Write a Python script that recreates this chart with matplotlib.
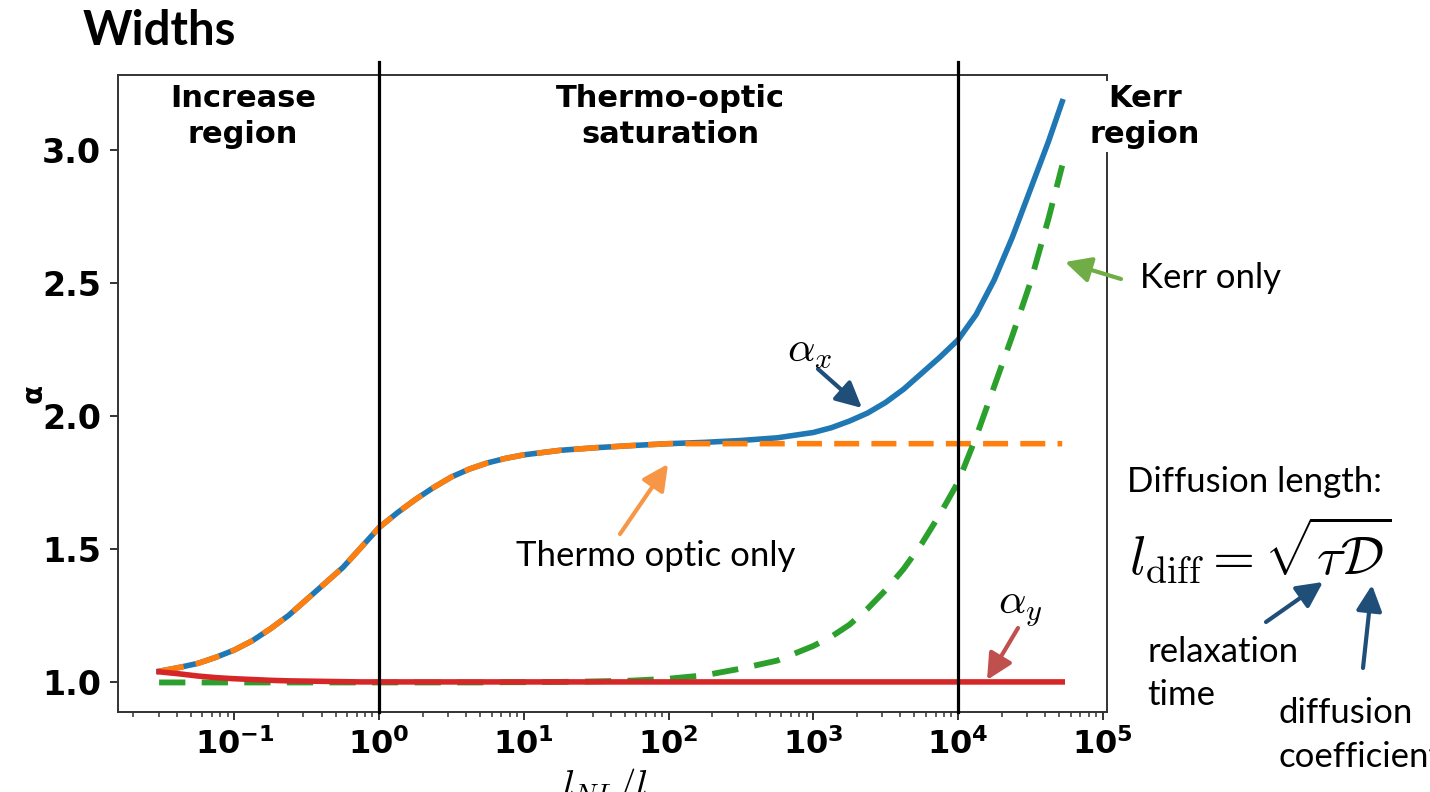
import numpy as np
import matplotlib.pyplot as plt

# data (x in decades of l_NL/l)
log_x = [-1.52, -1.375, -1.25, -1.125, -1.0, -0.875, -0.75, -0.625, -0.5, -0.375, -0.25, -0.125,
         0.0, 0.125, 0.25, 0.375, 0.5, 0.625, 0.75, 0.875, 1.0, 1.25, 1.5, 1.75, 2.0, 2.25, 2.5,
         2.75, 3.0, 3.125, 3.25, 3.375, 3.5, 3.625, 3.75, 3.875, 4.0, 4.125, 4.25, 4.375, 4.5,
         4.625, 4.72]
alpha_x = [1.040, 1.055, 1.070, 1.093, 1.120, 1.155, 1.200, 1.250, 1.310, 1.370, 1.430, 1.505,
           1.580, 1.635, 1.685, 1.730, 1.770, 1.800, 1.823, 1.840, 1.853, 1.870, 1.880, 1.888,
           1.895, 1.900, 1.907, 1.917, 1.937, 1.955, 1.980, 2.010, 2.050, 2.100, 2.160, 2.220,
           2.285, 2.380, 2.510, 2.670, 2.850, 3.030, 3.180]
thermo_only = [1.040, 1.055, 1.070, 1.093, 1.120, 1.155, 1.200, 1.250, 1.310, 1.370, 1.430, 1.505,
               1.580, 1.635, 1.685, 1.730, 1.770, 1.800, 1.823, 1.840, 1.853, 1.870, 1.880, 1.888,
               1.895, 1.895, 1.895, 1.895, 1.895, 1.895, 1.895, 1.895, 1.895, 1.895, 1.895, 1.895,
               1.895, 1.895, 1.895, 1.895, 1.895, 1.895, 1.895]
kerr_only = [0.998, 0.998, 0.998, 0.998, 0.998, 0.998, 0.998, 0.998, 0.998, 0.998, 0.998, 0.998,
             0.998, 0.998, 0.998, 0.998, 0.998, 0.998, 0.998, 0.999, 0.999, 1.000, 1.002, 1.005,
             1.012, 1.025, 1.050, 1.080, 1.135, 1.170, 1.215, 1.275, 1.345, 1.425, 1.520, 1.630,
             1.750, 1.920, 2.110, 2.300, 2.500, 2.740, 2.940]
alpha_y = [1.038, 1.030, 1.022, 1.016, 1.012, 1.009, 1.006, 1.004, 1.003, 1.002, 1.001, 1.000,
           1.000, 1.000, 1.000, 1.000, 1.000, 1.000, 1.000, 1.000, 1.000, 1.000, 1.000, 1.000,
           1.000, 1.000, 1.000, 1.000, 1.000, 1.000, 1.000, 1.000, 1.000, 1.000, 1.000, 1.000,
           1.000, 1.000, 1.000, 1.000, 1.000, 1.000, 1.000]
region_edges = [1.0, 1.0e4]
xtick_pos = [1e-1, 1e0, 1e1, 1e2, 1e3, 1e4, 1e5]
xtick_labels = [r'$\mathbf{10^{-1}}$', r'$\mathbf{10^{0}}$', r'$\mathbf{10^{1}}$', r'$\mathbf{10^{2}}$',
                r'$\mathbf{10^{3}}$', r'$\mathbf{10^{4}}$', r'$\mathbf{10^{5}}$']
ytick_pos = [1.0, 1.5, 2.0, 2.5, 3.0]

x = 10 ** np.array(log_x)

W, H = 1430, 792
def fp(px, py):
    # figure-pixel position (from top-left) -> figure fraction
    return (px / W, 1 - py / H)

fig = plt.figure(figsize=(W / 100, H / 100), dpi=100)
ax = fig.add_axes([118 / W, 1 - 712 / H, (1107 - 118) / W, (712 - 75) / H])

ax.plot(x, alpha_x, color='#1f77b4', lw=4, zorder=2)
ax.plot(x, thermo_only, color='#ff7f0e', lw=4, ls='--', dashes=(4.5, 2.2), zorder=2)
ax.plot(x, kerr_only, color='#2ca02c', lw=4.2, ls='--', dashes=(4.5, 2.8), zorder=2)
ax.plot(x, alpha_y, color='#d62728', lw=4, zorder=2)
for xe in region_edges:
    ax.axvline(xe, ymin=0, ymax=1.02, color='black', lw=2.3, clip_on=False, zorder=3)

ax.set_xscale('log')
ax.set_xlim(0.0157, 1.07e5)
ax.set_ylim(0.887, 3.28)
ax.set_xticks(xtick_pos, xtick_labels, fontsize=23)
ax.set_yticks(ytick_pos, [f'{v:.1f}' for v in ytick_pos], fontsize=24, fontweight='bold')
ax.tick_params(axis='both', which='major', length=6, width=1.4, color='#333333', pad=6)
ax.tick_params(axis='x', which='minor', length=3.5, width=1.1, color='#333333')
for sp in ax.spines.values():
    sp.set_linewidth(1.4)
    sp.set_color('#333333')
ax.set_ylabel('α', fontsize=20, fontweight='bold')
ax.yaxis.set_label_coords(-0.071, 0.5)

# region labels
region_kw = dict(fontsize=22, fontweight='bold', ha='center', va='top', linespacing=1.3, zorder=5)
fig.text(*fp(243, 84), 'Increase\nregion', **region_kw)
fig.text(*fp(670, 84), 'Thermo-optic\nsaturation', **region_kw)
fig.text(*fp(1145, 84), 'Kerr\nregion',
         bbox=dict(facecolor='white', edgecolor='none', pad=2), **region_kw)

fig.text(*fp(83, 45), 'Widths', fontsize=34, fontweight='bold', family='Lato', va='baseline')
fig.text(*fp(605, 797), r'$l_{NL}/l$', fontsize=28, math_fontfamily='cm', ha='center', va='baseline')

def arrow(tail, head, color):
    fig.add_artist(plt.Annotation('', xy=fp(*head), xytext=fp(*tail), xycoords='figure fraction',
                                  textcoords='figure fraction', annotation_clip=False,
                                  arrowprops=dict(arrowstyle='-|>,head_length=0.6,head_width=0.3',
                                                  color=color, lw=3, mutation_scale=26,
                                                  shrinkA=0, shrinkB=0)))

# curve annotations
cm_kw = dict(fontsize=31, math_fontfamily='cm', ha='center', va='center')
fig.text(*fp(810, 350), r'$\alpha_x$', **cm_kw)
fig.text(*fp(1020, 608), r'$\alpha_y$', **cm_kw)
arrow((818, 369), (862, 408), '#1f4e79')
arrow((1018, 628), (987, 680), '#c0504d')

txt_kw = dict(family='Lato', fontsize=25, va='center')
fig.text(*fp(656, 556), 'Thermo optic only', ha='center', **txt_kw)
arrow((620, 534), (668, 464), '#f79646')
fig.text(*fp(1140, 278), 'Kerr only', ha='left', **txt_kw)
arrow((1121, 279), (1065, 262), '#70ad47')

# diffusion length block (outside the axes)
fig.text(*fp(1127, 482), 'Diffusion length:', ha='left', **txt_kw)
fig.text(*fp(1129, 550), r'$l_{\mathrm{diff}} = \sqrt{\tau\mathcal{D}}$', fontsize=39,
         math_fontfamily='cm', ha='left', va='center')
fig.text(*fp(1147, 652), 'relaxation', ha='left', **txt_kw)
fig.text(*fp(1147, 695), 'time', ha='left', **txt_kw)
fig.text(*fp(1279, 713), 'diffusion', ha='left', **txt_kw)
fig.text(*fp(1279, 757), 'coefficient', ha='left', **txt_kw)
arrow((1266, 622), (1323, 582), '#1f4e79')
arrow((1363, 668), (1372, 585), '#1f4e79')

fig.savefig('out.png', dpi=100)
